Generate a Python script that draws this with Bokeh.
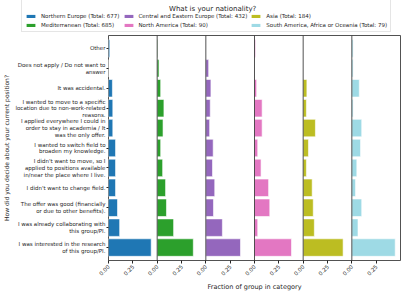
import math
from bokeh.plotting import figure
from bokeh.layouts import column
from bokeh.models import FactorRange, Range1d, FixedTicker, Span, Title, Legend, LegendItem, Label
from bokeh.embed import file_html
from bokeh.resources import INLINE

# Answer categories, top to bottom as shown in the chart
reasons = [
    "Other",
    "Does not apply / Do not want to\nanswer",
    "It was accidental.",
    "I wanted to move to a specific\nlocation due to non-work-related\nreasons.",
    "I applied everywhere I could in\norder to stay in academia / It\nwas the only offer.",
    "I wanted to switch field to\nbroaden my knowledge.",
    "I didn't want to move, so I\napplied to positions available\nin/near the place where I live.",
    "I didn't want to change field.",
    "The offer was good (financially\nor due to other benefits).",
    "I was already collaborating with\nthis group/PI.",
    "I was interested in the research\nof this group/PI.",
]

groups = [
    "Northern Europe",
    "Mediterranean",
    "Central and Eastern Europe",
    "North America",
    "Asia",
    "South America, Africa or Oceania",
]
totals = [677, 685, 432, 90, 184, 79]

# Fraction of each group in each category (same order as `reasons`)
northern_europe = [0.013, 0.000, 0.040, 0.044, 0.044, 0.072, 0.072, 0.072, 0.092, 0.114, 0.436]
mediterranean = [0.006, 0.019, 0.036, 0.069, 0.060, 0.036, 0.056, 0.086, 0.095, 0.168, 0.369]
central_eastern = [0.000, 0.029, 0.052, 0.045, 0.039, 0.075, 0.068, 0.091, 0.078, 0.169, 0.354]
north_america = [0.011, 0.000, 0.022, 0.078, 0.078, 0.033, 0.067, 0.144, 0.156, 0.033, 0.378]
asia = [0.000, 0.000, 0.038, 0.033, 0.125, 0.054, 0.033, 0.092, 0.103, 0.114, 0.408]
south_america = [0.013, 0.013, 0.076, 0.013, 0.101, 0.089, 0.051, 0.038, 0.101, 0.063, 0.443]

series = [northern_europe, mediterranean, central_eastern, north_america, asia, south_america]
colors = ["#1f77b4", "#2ca02c", "#9467bd", "#e377c2", "#bcbd22", "#9edae5"]

tick_values = [0.0, 0.25]
tick_labels = ["0.00", "0.25"]
legend_title = "What is your nationality?"
panel_extent = 0.497  # x-extent of each small-multiple panel

FONT = "DejaVu Sans"
DARK = "#262626"

# ---- main faceted bar chart ----
p = figure(
    y_range=FactorRange(factors=list(reversed(reasons)), range_padding=0.0273),
    x_range=Range1d(0, 6 * panel_extent),
    frame_width=292, frame_height=225,
    min_border_left=101, min_border_right=6, min_border_top=3, min_border_bottom=31,
    output_backend="svg", toolbar_location=None,
)

for i, (vals, c) in enumerate(zip(series, colors)):
    base = i * panel_extent
    p.hbar(
        y=reasons,
        left=[base] * len(vals),
        right=[base + v for v in vals],
        height=0.88,
        fill_color=c, line_color="white", line_width=0.6,
    )

for i in range(1, 6):
    p.add_layout(Span(location=i * panel_extent, dimension="height",
                      line_color=DARK, line_width=0.8))

p.outline_line_color = DARK
p.outline_line_width = 0.8
p.grid.visible = False

# x axis: ticks per panel
ticks = []
overrides = {}
for i in range(6):
    for tv, tl in zip(tick_values, tick_labels):
        v = i * panel_extent + tv
        ticks.append(v)
        overrides[v] = tl
p.xaxis.ticker = FixedTicker(ticks=ticks)
p.xaxis.major_label_overrides = overrides
p.xaxis.major_label_orientation = math.pi / 4
p.xaxis.axis_line_color = None
p.xaxis.major_tick_line_color = DARK
p.xaxis.major_tick_out = 3
p.xaxis.major_tick_in = 0
p.xaxis.minor_tick_line_color = None
p.xaxis.major_label_text_font = FONT
p.xaxis.major_label_text_font_size = "5.5px"
p.xaxis.major_label_text_color = DARK
p.xaxis.major_label_standoff = 2

# y axis
p.yaxis.axis_line_color = None
p.yaxis.major_tick_line_color = DARK
p.yaxis.major_tick_out = 2
p.yaxis.major_tick_in = 0
p.yaxis.major_label_text_font = FONT
p.yaxis.major_label_text_font_size = "5.5px"
p.yaxis.major_label_text_color = DARK
p.yaxis.major_label_text_line_height = 1.1
p.yaxis.major_label_standoff = 1
p.yaxis.axis_label = "How did you decide about your current position?"
p.yaxis.axis_label_text_font = FONT
p.yaxis.axis_label_text_font_size = "6px"
p.yaxis.axis_label_text_font_style = "normal"
p.yaxis.axis_label_text_color = DARK
p.yaxis.axis_label_standoff = 2

p.add_layout(Title(text="Fraction of group in category", align="center", offset=24,
                   text_font=FONT, text_font_size="6.5px", text_font_style="normal",
                   text_color=DARK, standoff=0), "below")

# ---- legend strip above the chart ----
lf = figure(
    x_range=Range1d(0, 1), y_range=Range1d(0, 1),
    frame_width=399, frame_height=32,
    min_border_left=0, min_border_right=0, min_border_top=0, min_border_bottom=0,
    x_axis_type=None, y_axis_type=None,
    output_backend="svg", toolbar_location=None,
)
lf.outline_line_color = None
lf.grid.visible = False

items = []
for g, t, c in zip(groups, totals, colors):
    # legend swatch source: kept outside the visible range of this strip
    r = lf.hbar(y=[-5], left=[0], right=[1], height=0.8, fill_color=c, line_color=None)
    items.append(LegendItem(label=f"{g} (Total: {t})", renderers=[r]))

leg = Legend(
    items=items,
    location=(21, 0),
    orientation="vertical",
    nrows=2,
    title=" ",
    title_text_font=FONT, title_text_font_size="7px", title_text_font_style="normal",
    title_text_color=DARK, title_standoff=3,
    label_text_font=FONT, label_text_font_size="5.5px", label_text_color=DARK,
    label_height=6, label_standoff=5,
    glyph_width=11, glyph_height=4,
    spacing=3, padding=3, margin=0,
    border_line_color="#cccccc", border_line_width=0.8,
    background_fill_alpha=0.0,
)
lf.add_layout(leg, "center")
lf.add_layout(Label(x=0.261, y=0.74, text=legend_title, text_align="center",
                    text_baseline="middle", text_font=FONT, text_font_size="7px",
                    text_color=DARK, level="overlay"))

layout = column(lf, p)
open("out.html", "w").write(file_html(layout, INLINE))
